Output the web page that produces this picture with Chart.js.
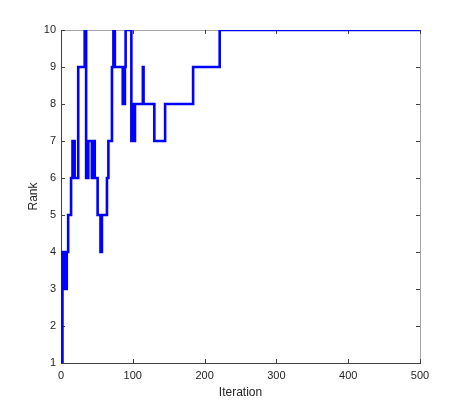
<!DOCTYPE html>
<html>
<head>
<meta charset="utf-8">
<script src="https://cdn.jsdelivr.net/npm/chart.js@4"></script>
<style>
  html, body { margin: 0; padding: 0; background: #fff; }
  #wrap { width: 463px; height: 407px; }
</style>
</head>
<body>
<div id="wrap"><canvas id="rankChart" width="463" height="407"></canvas></div>
<script>
// Rank per iteration, stored as change points (value holds until the next one)
const iterations = [1, 2, 3, 4, 5, 6, 7, 8, 10, 14, 16, 17, 18, 19, 24, 33, 35,
    36, 37, 38, 43, 44, 45, 46, 47, 51, 55, 57, 64, 66, 71, 73, 75,
    86, 87, 88, 89, 90, 98, 99, 100, 101, 102, 103, 114, 115, 130, 145, 184, 221, 500];
const ranks = [1, 4, 3, 4, 3, 4, 3, 4, 5, 6, 7, 6, 7, 6, 9, 10, 6,
    7, 6, 7, 6, 7, 6, 7, 6, 5, 4, 5, 6, 7, 9, 10, 9,
    8, 9, 8, 9, 10, 7, 8, 7, 8, 7, 8, 9, 8, 7, 8, 9, 10, 10];
const xTicks = [0, 100, 200, 300, 400, 500];
const yTicks = [1, 2, 3, 4, 5, 6, 7, 8, 9, 10];

const axisColor = '#404040';
const fontFamily = '"Liberation Sans", Arial, sans-serif';

// box + inward tick marks, matlab style
const boxPlugin = {
    id: 'box',
    beforeDatasetsDraw(chart) {
        const ctx = chart.ctx;
        const a = chart.chartArea;
        const xs = chart.scales.x;
        const ys = chart.scales.y;
        ctx.save();
        ctx.lineWidth = 1;
        ctx.strokeStyle = '#a6a6a6';
        ctx.beginPath();
        ctx.moveTo(a.left, a.top + 0.5);
        ctx.lineTo(a.right + 0.5, a.top + 0.5);
        ctx.lineTo(a.right + 0.5, a.bottom);
        ctx.stroke();

        ctx.strokeStyle = axisColor;
        ctx.beginPath();
        xTicks.forEach(v => {
            const px = Math.round(xs.getPixelForValue(v)) + 0.5;
            ctx.moveTo(px, a.bottom);
            ctx.lineTo(px, a.bottom - 4);
            ctx.moveTo(px, a.top);
            ctx.lineTo(px, a.top + 4);
        });
        yTicks.forEach(v => {
            const py = Math.round(ys.getPixelForValue(v)) + 0.5;
            ctx.moveTo(a.left, py);
            ctx.lineTo(a.left + 4, py);
            ctx.moveTo(a.right, py);
            ctx.lineTo(a.right - 4, py);
        });
        ctx.stroke();
        ctx.restore();
    }
};

const ctx = document.getElementById('rankChart');
new Chart(ctx, {
    type: 'line',
    data: {
        datasets: [{
            label: 'Rank',
            data: iterations.map((it, i) => ({ x: it, y: ranks[i] })),
            stepped: true,
            borderColor: '#0000ff',
            borderWidth: 2.6,
            pointRadius: 0,
            fill: false
        }]
    },
    options: {
        responsive: false,
        animation: false,
        layout: { padding: { left: 0, right: 43, top: 30, bottom: 0 } },
        plugins: {
            legend: { display: false },
            tooltip: { enabled: false }
        },
        scales: {
            x: {
                type: 'linear',
                min: 0,
                max: 500,
                afterFit: scale => { scale.height = 44; },
                afterBuildTicks: scale => { scale.ticks = xTicks.map(v => ({ value: v })); },
                grid: { display: true, drawOnChartArea: false, drawTicks: false },
                border: { color: axisColor, width: 1 },
                ticks: {
                    padding: 6,
                    color: '#262626',
                    font: { family: fontFamily, size: 11 }
                },
                title: {
                    display: true,
                    text: 'Iteration',
                    color: '#262626',
                    padding: { top: 0, bottom: 7 },
                    font: { family: fontFamily, size: 12 }
                }
            },
            y: {
                type: 'linear',
                min: 1,
                max: 10,
                afterFit: scale => { scale.width = 61; },
                afterBuildTicks: scale => { scale.ticks = yTicks.map(v => ({ value: v })); },
                grid: { display: true, drawOnChartArea: false, drawTicks: false },
                border: { color: axisColor, width: 1 },
                ticks: {
                    padding: 5,
                    color: '#262626',
                    font: { family: fontFamily, size: 11 }
                },
                title: {
                    display: true,
                    text: 'Rank',
                    color: '#262626',
                    padding: { top: 26, bottom: 0 },
                    font: { family: fontFamily, size: 12 }
                }
            }
        }
    },
    plugins: [boxPlugin]
});
</script>
</body>
</html>
